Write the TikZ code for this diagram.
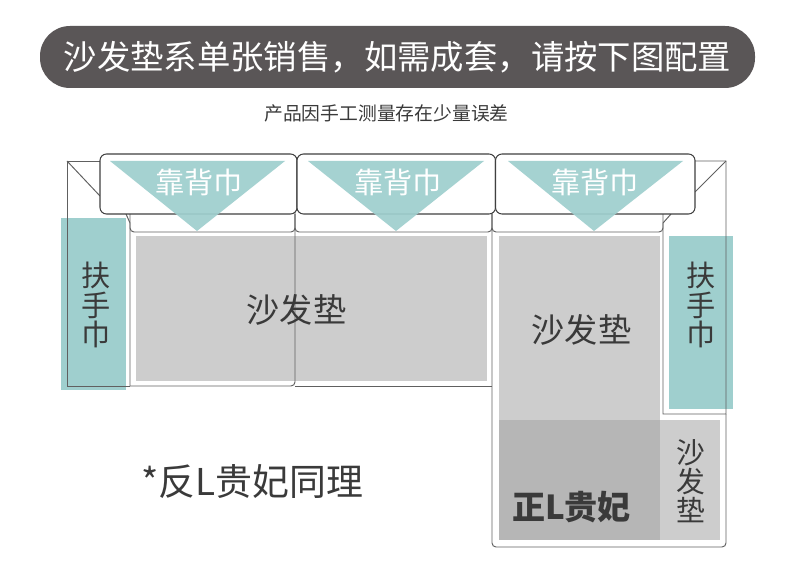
\documentclass[tikz,border=0pt]{standalone}
\usepackage{fontspec}
\setmainfont{Noto Sans CJK SC}
\usepackage{tikz}
\definecolor{pill}{HTML}{5A5657}
\definecolor{teal}{HTML}{9FCFCE}
\definecolor{seat}{HTML}{CDCDCD}
\definecolor{chaise}{HTML}{B6B6B6}
\definecolor{edge}{HTML}{606060}
\definecolor{ink}{HTML}{3A3A3A}
\tikzset{
  wire/.style   = {line width=0.55pt, draw=edge},
  cush/.style   = {line width=0.6pt, draw=black!75, fill=white, rounded corners=1.3mm},
  bwire/.style  = {line width=0.55pt, draw=edge, rounded corners=0.8mm},
  tri/.style    = {fill=teal},
  lbl/.style    = {inner sep=0pt, text=ink, align=center},
  big/.style    = {lbl, font=\fontsize{18.9}{19.5}\selectfont},
  arm/.style    = {lbl, font=\fontsize{16.6}{16.6}\selectfont},
  back/.style   = {inner sep=0pt, text=white, font=\fontsize{16.6}{20}\selectfont},
}
\begin{document}
\begin{tikzpicture}[x=0.02cm,y=-0.02cm]
  \useasboundingbox (0,0) rectangle (790,580);
  % title
  \fill[pill, rounded corners=6mm] (40,26) rectangle (755,88);
  \node[inner sep=0pt, text=white, font=\fontsize{19}{22}\selectfont] (title) at (397.5,57) {沙发垫系单张销售，如需成套，请按下图配置};
  \node[lbl, font=\fontsize{10.7}{13}\selectfont] (note) at (386.5,113) {产品因手工测量存在少量误差};
  % seat panels
  \fill[seat] (136,236) rectangle (487,381);
  \fill[seat] (499,236) rectangle (660,420);
  \fill[chaise] (499,420) rectangle (660,540);
  \fill[seat] (660,420) rectangle (720,540);
  % arm towels
  \fill[teal] (61,218) rectangle (125.5,389.5);
  \fill[teal] (669,236) rectangle (733,409);
  % outline
  \draw[wire] (100,161)--(67,161)--(67,386)--(130,386);
  \draw[wire] (67,161)--(100,196);
  \draw[wire] (126,214)--(130,223)--(130,386);
  \draw[wire] (695,161)--(726,161)--(726,414)--(663,414)--(663,223)--(671,214);
  \draw[wire] (726,161)--(695,192);
  \draw[bwire] (130,386)--(295,386)--(295,206);
  \draw[bwire] (295,386)--(492,386);
  \draw[bwire] (492,210)--(492,547)--(726,547)--(726,414);
  \draw[bwire] (130,214)--(130,232)--(295,232)--(295,214);
  \draw[bwire] (295,214)--(295,232)--(492,232)--(492,214);
  \draw[bwire] (492,214)--(492,232)--(663,232)--(663,214);
  % back cushions
  \draw[cush] (100,154) rectangle (297,214);
  \draw[cush] (297,154) rectangle (495.5,214);
  \draw[cush] (495.5,154) rectangle (695,214);
  \fill[tri, opacity=0.93] (110,161)--(285,161)--(197,231)--cycle;
  \fill[tri, opacity=0.93] (308,161)--(484,161)--(396,231)--cycle;
  \fill[tri, opacity=0.93] (508,161)--(683,161)--(594,231)--cycle;
  \node[back] (b1) at (199,182) {靠背巾};
  \node[back] (b2) at (398,182) {靠背巾};
  \node[back] (b3) at (595,182) {靠背巾};
  % labels
  \node[big] (s1) at (296.5,310) {沙发垫};
  \node[big] (s2) at (581.5,330) {沙发垫};
  \node[arm] (a1) at (96.5,305) {扶\\手\\巾};
  \node[arm] (a2) at (701.5,305) {扶\\手\\巾};
  \node[arm, font=\fontsize{16.4}{16.6}\selectfont] (s3) at (690.5,481) {沙\\发\\垫};
  \node[lbl, font=\fontsize{18.8}{22}\bfseries\selectfont] (zl) at (571.5,507) {正L贵妃};
  \node[lbl, font=\fontsize{21}{24}\selectfont] (fl) at (252.5,482) {*反L贵妃同理};
\end{tikzpicture}
\end{document}
